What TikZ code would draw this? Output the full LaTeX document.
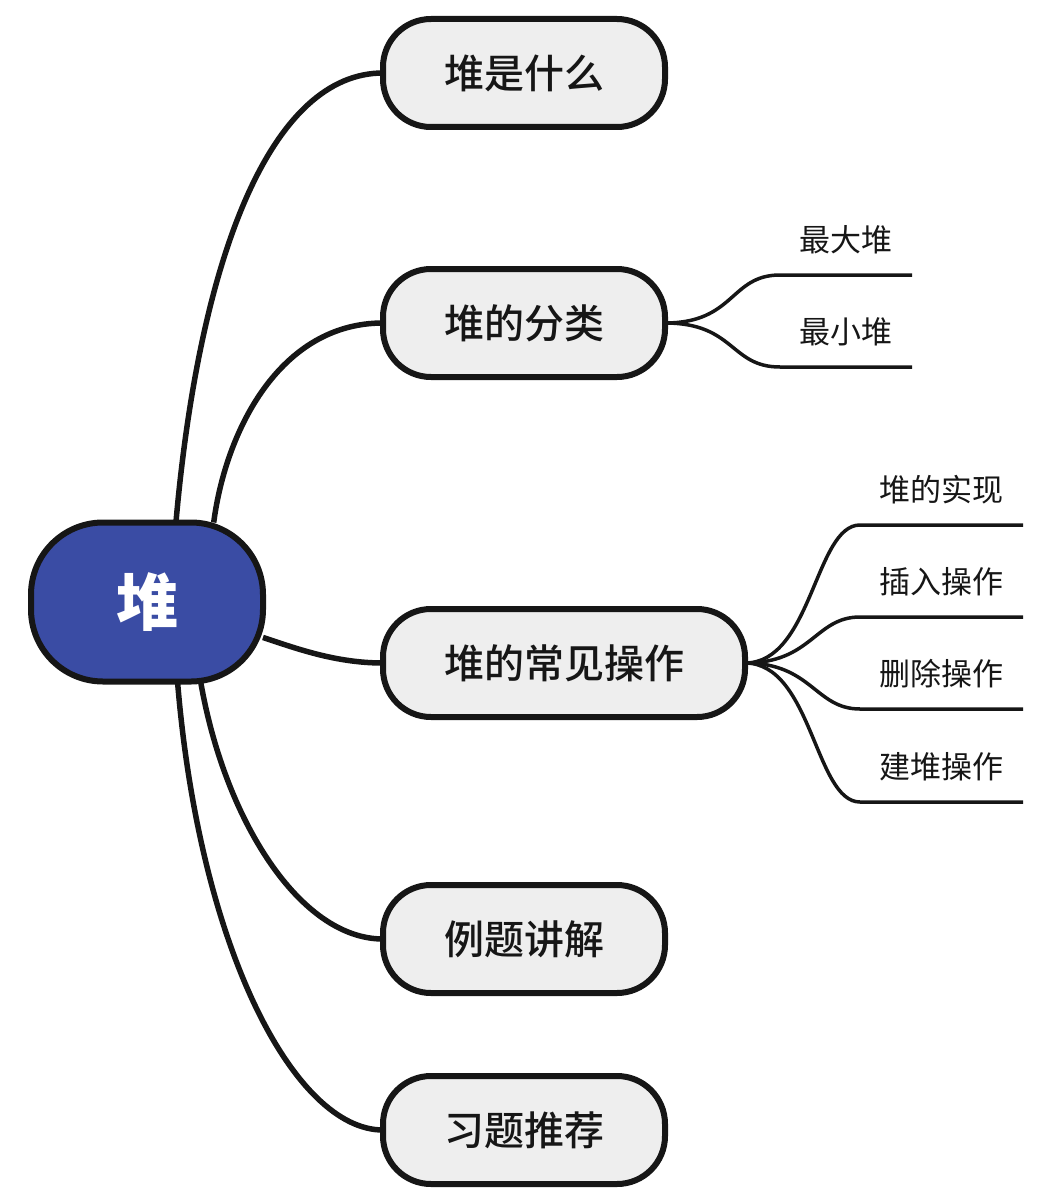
\documentclass[tikz,border=0pt]{standalone}
\usepackage{fontspec}
\setmainfont{Noto Sans CJK SC}
\newfontfamily\cjkmedium{Noto Sans CJK SC Medium}
\usetikzlibrary{backgrounds}
\definecolor{rootblue}{HTML}{3A4CA4}
\definecolor{nodegray}{HTML}{EEEEEE}
\definecolor{ink}{HTML}{161616}
\begin{document}
\begin{tikzpicture}[x=1pt,y=-1pt,
  rootnode/.style={draw=ink, line width=6pt, fill=rootblue, rounded corners=72pt,
    minimum width=232pt, minimum height=159pt, inner sep=0pt, outer sep=0pt,
    text=white, font=\fontsize{62}{70}\selectfont\bfseries},
  childnode/.style={draw=ink, line width=6pt, fill=nodegray, rounded corners=48pt,
    minimum height=108pt, inner xsep=61pt, inner ysep=0pt, outer sep=0pt,
    anchor=west, text=ink, font=\fontsize{40}{48}\cjkmedium},
  leafnode/.style={inner sep=0pt, outer sep=0pt, minimum height=70pt,
    text=ink, font=\fontsize{31}{36}\selectfont},
  mainlink/.style={draw=ink, line width=5.5pt},
  leaflink/.style={draw=ink, line width=3.5pt},
]
\useasboundingbox (0,0) rectangle (1048,1204);

\node[rootnode] (root) at (147,602) {堆};

\node[childnode] (c1) at (383,73) {堆是什么};
\node[childnode] (c2) at (383,323) {堆的分类};
\node[childnode] (c3) at (383,663) {堆的常见操作};
\node[childnode] (c4) at (383,939) {例题讲解};
\node[childnode] (c5) at (383,1130) {习题推荐};

\node[leafnode, minimum width=132pt] (a1) at (846,240) {最大堆};
\node[leafnode, minimum width=132pt] (a2) at (846,332) {最小堆};

\node[leafnode, minimum width=163pt] (b1) at (941.5,490) {堆的实现};
\node[leafnode, minimum width=163pt] (b2) at (941.5,582) {插入操作};
\node[leafnode, minimum width=163pt] (b3) at (941.5,674) {删除操作};
\node[leafnode, minimum width=163pt] (b4) at (941.5,767) {建堆操作};

\begin{scope}[on background layer]
  \draw[mainlink] (root.70) .. controls +(24,-272) and +(-110,0) .. (c1.west);
  \draw[mainlink] (root.50) .. controls +(12,-92) and +(-103,0) .. (c2.west);
  \draw[mainlink] (root.-17) .. controls +(32,10.5) and +(-48,0) .. (c3.west);
  \draw[mainlink] (root.-56) .. controls +(24,138.5) and +(-83,0) .. (c4.west);
  \draw[mainlink] (root.-69) .. controls +(22,268.5) and +(-88,0) .. (c5.west);

  \draw[leaflink] (c2.east) .. controls +(70,0) and +(-50,0) .. (a1.south west) -- (a1.south east);
  \draw[leaflink] (c2.east) .. controls +(70,0) and +(-50,0) .. (a2.south west) -- (a2.south east);

  \draw[leaflink] (c3.east) .. controls +(67,0) and +(-45,0) .. (b1.south west) -- (b1.south east);
  \draw[leaflink] (c3.east) .. controls +(67,0) and +(-45,0) .. (b2.south west) -- (b2.south east);
  \draw[leaflink] (c3.east) .. controls +(67,0) and +(-45,0) .. (b3.south west) -- (b3.south east);
  \draw[leaflink] (c3.east) .. controls +(67,0) and +(-45,0) .. (b4.south west) -- (b4.south east);
\end{scope}
\end{tikzpicture}
\end{document}
